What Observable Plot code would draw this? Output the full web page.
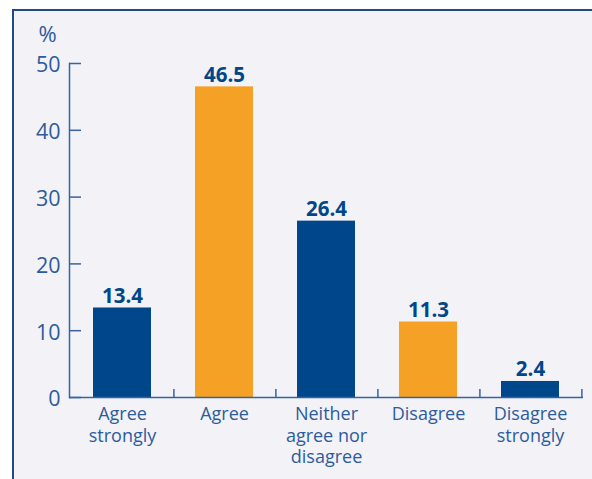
<!DOCTYPE html>
<html><head><meta charset="utf-8">
<script src="https://cdn.jsdelivr.net/npm/d3@7"></script>
<script src="https://cdn.jsdelivr.net/npm/@observablehq/plot@0.6"></script>
<style>
body{margin:0;background:#fff;}
#wrap{position:relative;width:592px;height:479px;overflow:hidden;}
#panel{position:absolute;left:12px;top:9px;right:0;bottom:0;background:#f2f2f7;border-left:2px solid #1f4a87;border-top:2px solid #1f4a87;}
#chart{position:absolute;left:0;top:0;}
</style></head><body>
<div id="wrap"><div id="panel"></div><div id="chart"></div></div>
<script>
const categories = ["Agree strongly", "Agree", "Neither agree nor disagree", "Disagree", "Disagree strongly"];
const categoryLabels = ["Agree\nstrongly", "Agree", "Neither\nagree nor\ndisagree", "Disagree", "Disagree\nstrongly"];
const values = [13.4, 46.5, 26.4, 11.3, 2.4];
const yTicks = [0, 10, 20, 30, 40, 50];
const yUnit = "%";

const data = categories.map((c, i) => ({category: c, value: values[i]}));

const W = 592, H = 479, mL = 69, mR = 9, mT = 63, mB = 82;
const frameW = W - mL - mR, frameH = H - mT - mB;
const step = frameW / categories.length;
const NAVY = "#00468a", ORANGE = "#f5a126", AXIS = "#3564a0", TEXT = "#2d5c9c";

const chart = Plot.plot({
  width: W, height: H,
  marginLeft: mL, marginRight: mR, marginTop: mT, marginBottom: mB,
  style: {fontFamily: "'Open Sans', sans-serif", background: "transparent", overflow: "visible"},
  x: {domain: categories, paddingInner: 0.43, paddingOuter: 0.215, axis: null},
  y: {domain: [0, 50], axis: null},
  color: {domain: categories, range: [NAVY, ORANGE, NAVY, ORANGE, NAVY]},
  marks: [
    Plot.barY(data, {x: "category", y: "value", fill: "category"}),
    Plot.text(data, {x: "category", y: "value", text: d => d.value.toFixed(1), lineAnchor: "bottom", dy: -5, fontSize: 20.5, fontWeight: "bold", fill: NAVY}),
    Plot.frame({anchor: "left", stroke: AXIS, strokeWidth: 1.5}),
    Plot.ruleY([0], {stroke: AXIS, strokeWidth: 1.5}),
    Plot.ruleY(yTicks, {y: d => d, stroke: AXIS, strokeWidth: 1.5, insetRight: frameW - 12}),
    Plot.ruleX(categories, {x: d => d, dx: step / 2, stroke: AXIS, strokeWidth: 1.5, insetTop: frameH - 8}),
    Plot.axisY({ticks: yTicks, tickSize: 0, tickPadding: 9, fontSize: 21.5, color: TEXT, dy: 2, label: null}),
    Plot.axisX({tickSize: 0, tickPadding: 8, fontSize: 18, lineHeight: 1.17, color: TEXT, label: null,
      tickFormat: d => categoryLabels[categories.indexOf(d)]}),
    Plot.text([yUnit], {text: d => d, frameAnchor: "top-left", dx: -22, dy: -22, lineAnchor: "bottom", textAnchor: "middle", fontSize: 22, fill: TEXT})
  ]
});
document.getElementById("chart").appendChild(chart);
</script>
</body></html>
